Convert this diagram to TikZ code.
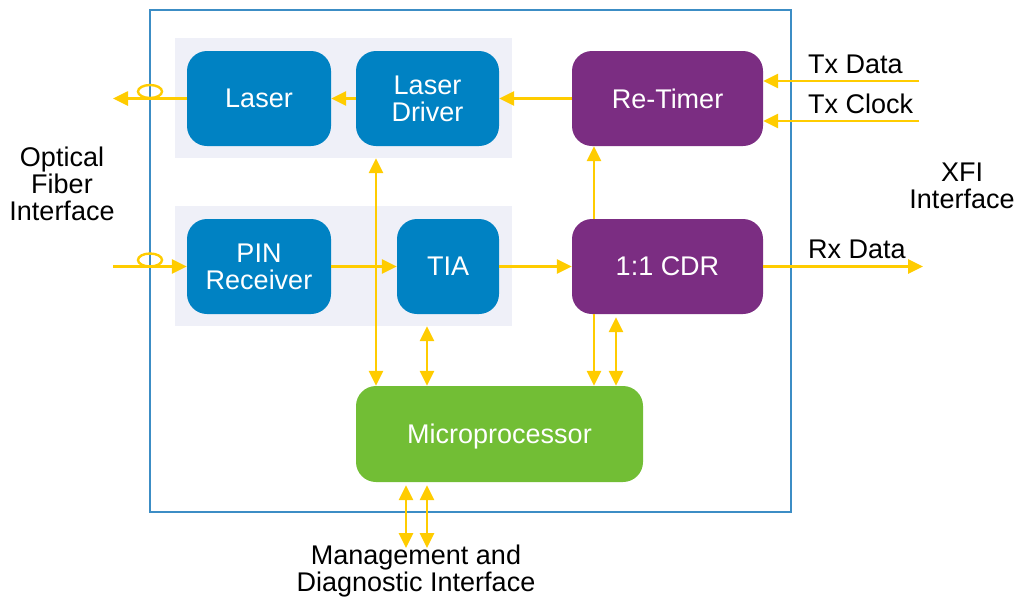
\documentclass[tikz,border=0pt]{standalone}
\usepackage{fontspec}
\setmainfont{Liberation Sans}
\usetikzlibrary{arrows.meta}
\definecolor{boxblue}{RGB}{0,130,195}
\definecolor{boxpurple}{RGB}{123,45,130}
\definecolor{boxgreen}{RGB}{114,190,53}
\definecolor{panelgray}{RGB}{239,240,248}
\definecolor{sigyellow}{RGB}{255,204,0}
\definecolor{frameblue}{RGB}{60,141,197}
\begin{document}
\begin{tikzpicture}[x=1pt,y=-1pt,
  font=\fontsize{27pt}{27pt}\selectfont,
  >={Triangle[length=15pt,width=14pt]},
  block/.style={rounded corners=20pt, text=white, align=center, inner sep=0pt, draw=none},
  bluebox/.style={block, fill=boxblue},
  purplebox/.style={block, fill=boxpurple},
  greenbox/.style={block, fill=boxgreen},
  panel/.style={fill=panelgray, draw=none, inner sep=0pt, minimum width=337pt, minimum height=120pt},
  sig/.style={draw=sigyellow, line width=2.6pt},
  fiberring/.style={draw=sigyellow, line width=2.4pt},
  lbl/.style={text=black, align=center, inner sep=0pt}]
\useasboundingbox (0,0) rectangle (1020,600);
% frame
\node[draw=frameblue, line width=1.3pt, minimum width=641pt, minimum height=502pt, inner sep=0pt] (frame) at (470.5,261) {};
% panels
\node[panel] (txpanel) at (343.5,98) {};
\node[panel] (rxpanel) at (343.5,266) {};
% blocks
\node[bluebox, minimum width=144pt, minimum height=95pt] (laser) at (259,98.5) {Laser};
\node[bluebox, minimum width=143pt, minimum height=95pt] (ld) at (427.5,98.5) {Laser\\Driver};
\node[purplebox, minimum width=191pt, minimum height=95pt] (rt) at (667.5,98.5) {Re-Timer};
\node[bluebox, minimum width=144pt, minimum height=95pt] (pin) at (259,266.5) {PIN\\Receiver};
\node[bluebox, minimum width=102pt, minimum height=95pt] (tia) at (448,266.5) {TIA};
\node[purplebox, minimum width=191pt, minimum height=95pt] (cdr) at (667.5,266.5) {1:1 CDR};
\node[greenbox, minimum width=287pt, minimum height=96pt, text depth=0pt] (mcu) at (499.5,434) {Microprocessor};
% free ends
\coordinate (fibout) at (113,98.5);
\coordinate (fibin) at (113,266.5);
\coordinate (txd) at (919,81);
\coordinate (txc) at (919,121);
\coordinate (rxd) at (923,266.5);
\coordinate (mg1) at (406,548);
\coordinate (mg2) at (427,548);
% signal arrows
\draw[sig,->] (laser.west) -- (fibout);
\draw[fiberring] (150,91.5) ellipse [x radius=12pt, y radius=6.5pt];
\draw[sig,->] (fibin) -- (pin.west);
\draw[fiberring] (150,260) ellipse [x radius=12pt, y radius=6.5pt];
\draw[sig,->] (ld.west) -- (laser.east);
\draw[sig,->] (rt.west) -- (ld.east);
\draw[sig,->] (pin.east) -- (tia.west);
\draw[sig,->] (tia.east) -- (cdr.west);
\draw[sig,->] ([xshift=-73.5pt]cdr.north) -- ([xshift=-73.5pt]rt.south);
\draw[sig,->] (txd) -- (txd -| rt.east);
\draw[sig,->] (txc) -- (txc -| rt.east);
\draw[sig,->] (cdr.east) -- (rxd);
\draw[sig,<->] ([xshift=32.5pt]txpanel.south) -- ([xshift=-123.5pt]mcu.north);
\draw[sig,<->] ([xshift=83.5pt]rxpanel.south) -- ([xshift=-72.5pt]mcu.north);
\draw[sig,->] ([xshift=-73.5pt]cdr.south) -- ([xshift=94.5pt]mcu.north);
\draw[sig,<->] ([xshift=-51.5pt,yshift=-3pt]cdr.south) -- ([xshift=116.5pt]mcu.north);
\draw[sig,<->] ([xshift=-93.5pt,yshift=-3pt]mcu.south) -- (mg1);
\draw[sig,<->] ([xshift=-72.5pt,yshift=-3pt]mcu.south) -- (mg2);
% labels
\node[lbl] (ofi) at (62,184) {Optical\\Fiber\\Interface};
\node[lbl] (xfi) at (962,186) {XFI\\Interface};
\node[lbl, anchor=base west] (txdl) at (808,73) {Tx Data};
\node[lbl, anchor=base west] (txcl) at (808,113) {Tx Clock};
\node[lbl, anchor=base west] (rxdl) at (808,258) {Rx Data};
\node[lbl] (mgl) at (416,571) {Management and\\Diagnostic Interface};
\end{tikzpicture}
\end{document}
